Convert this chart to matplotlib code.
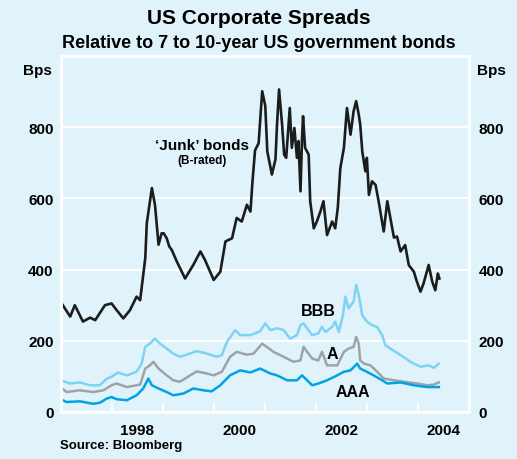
import matplotlib
matplotlib.use("Agg")
import matplotlib.pyplot as plt
from matplotlib.ticker import FixedLocator, NullFormatter

plt.rcParams['font.family'] = ['Liberation Sans', 'DejaVu Sans']
plt.rcParams['font.weight'] = 'bold'

# --------------- data (decimal years, basis points) ---------------
junk_t = [1997.00, 1997.19, 1997.28, 1997.44, 1997.58, 1997.68, 1997.87, 1998.00,
          1998.10, 1998.23, 1998.36, 1998.49, 1998.56, 1998.62, 1998.66, 1998.69,
          1998.75, 1998.79, 1998.85, 1998.92, 1998.98, 1999.02, 1999.08, 1999.13,
          1999.18, 1999.28, 1999.44, 1999.60, 1999.74, 1999.83, 2000.00, 2000.13,
          2000.23, 2000.36, 2000.45, 2000.55, 2000.65, 2000.72, 2000.76, 2000.81,
          2000.88, 2000.95, 2001.01, 2001.05, 2001.14, 2001.21, 2001.24, 2001.28,
          2001.34, 2001.38, 2001.42, 2001.49, 2001.53, 2001.58, 2001.63, 2001.66,
          2001.70, 2001.73, 2001.75, 2001.79, 2001.86, 2001.89, 2001.96, 2002.02,
          2002.09, 2002.15, 2002.22, 2002.32, 2002.38, 2002.43, 2002.48, 2002.55,
          2002.61, 2002.68, 2002.74, 2002.79, 2002.84, 2002.87, 2002.91, 2002.97,
          2003.00, 2003.04, 2003.10, 2003.17, 2003.23, 2003.33, 2003.40, 2003.46,
          2003.53, 2003.59, 2003.66, 2003.75, 2003.82, 2003.92, 2003.98, 2004.05,
          2004.11, 2004.21, 2004.28, 2004.34, 2004.39, 2004.42]
junk_v = [310, 268, 300, 254, 265, 258, 300, 305,
          286, 263, 286, 324, 314, 385, 432, 530,
          590, 629, 582, 470, 502, 502, 488, 465,
          455, 422, 375, 413, 451, 427, 371, 394,
          479, 488, 545, 535, 582, 563, 648, 735,
          755, 901, 860, 732, 667, 710, 807, 906,
          807, 723, 714, 854, 742, 798, 714, 761,
          620, 770, 831, 742, 723, 592, 516, 535,
          563, 592, 497, 535, 516, 573, 685, 742,
          854, 779, 845, 873, 836, 807, 732, 676,
          714, 610, 648, 638, 592, 507, 592, 545,
          490, 493, 451, 469, 413, 394, 366, 338,
          361, 413, 366, 342, 389, 375]

bbb_t = [1997.00, 1997.19, 1997.38, 1997.58, 1997.77, 1997.91, 1998.00, 1998.13,
         1998.30, 1998.49, 1998.59, 1998.66, 1998.75, 1998.85, 1998.95, 1999.08,
         1999.21, 1999.34, 1999.47, 1999.67, 1999.87, 2000.06, 2000.16, 2000.26,
         2000.42, 2000.52, 2000.72, 2000.91, 2001.01, 2001.11, 2001.24, 2001.37,
         2001.50, 2001.63, 2001.70, 2001.76, 2001.83, 2001.93, 2002.05, 2002.12,
         2002.19, 2002.32, 2002.38, 2002.45, 2002.53, 2002.58, 2002.64, 2002.74,
         2002.79, 2002.84, 2002.91, 2003.00, 2003.10, 2003.20, 2003.30, 2003.36,
         2003.46, 2003.66, 2003.85, 2004.05, 2004.21, 2004.31, 2004.41]
bbb_v = [89, 80, 83, 75, 75, 94, 99, 111,
         103, 113, 136, 183, 192, 206, 192, 178,
         164, 155, 161, 171, 164, 155, 160, 197,
         230, 216, 216, 227, 249, 230, 235, 230,
         206, 216, 244, 249, 235, 216, 221, 239,
         225, 239, 254, 225, 272, 324, 291, 310,
         357, 329, 272, 254, 244, 239, 216, 188,
         178, 160, 141, 127, 131, 124, 136]

a_t = [1997.00, 1997.12, 1997.38, 1997.64, 1997.84, 1998.00, 1998.10, 1998.30,
       1998.56, 1998.66, 1998.75, 1998.82, 1998.92, 1999.08, 1999.21, 1999.34,
       1999.54, 1999.67, 1999.87, 2000.00, 2000.16, 2000.32, 2000.45, 2000.65,
       2000.78, 2000.95, 2001.04, 2001.17, 2001.37, 2001.56, 2001.70, 2001.76,
       2001.83, 2001.93, 2002.05, 2002.12, 2002.22, 2002.42, 2002.55, 2002.64,
       2002.74, 2002.79, 2002.84, 2002.87, 2002.94, 2003.07, 2003.20, 2003.33,
       2003.53, 2003.72, 2003.98, 2004.18, 2004.31, 2004.41]
a_v = [70, 56, 61, 56, 61, 75, 80, 70,
       77, 122, 131, 141, 122, 103, 89, 85,
       103, 114, 108, 103, 113, 155, 169, 161,
       164, 192, 183, 169, 155, 141, 145, 183,
       169, 150, 145, 169, 131, 131, 169, 178,
       183, 211, 192, 145, 136, 131, 113, 94,
       89, 85, 80, 75, 77, 83]

aaa_t = [1997.00, 1997.12, 1997.38, 1997.64, 1997.77, 1997.91, 1998.00, 1998.10,
         1998.30, 1998.49, 1998.62, 1998.72, 1998.79, 1998.92, 1999.08, 1999.21,
         1999.41, 1999.60, 1999.80, 1999.96, 2000.13, 2000.32, 2000.52, 2000.72,
         2000.91, 2001.11, 2001.24, 2001.44, 2001.63, 2001.73, 2001.83, 2001.93,
         2002.05, 2002.22, 2002.42, 2002.55, 2002.68, 2002.81, 2002.87, 2003.00,
         2003.13, 2003.30, 2003.40, 2003.66, 2003.92, 2004.18, 2004.41]
aaa_v = [36, 28, 30, 23, 26, 38, 42, 36,
         33, 47, 66, 94, 75, 66, 56, 47,
         52, 66, 61, 58, 75, 103, 117, 111,
         122, 108, 103, 89, 89, 103, 89, 75,
         80, 89, 103, 113, 117, 136, 122, 113,
         103, 89, 80, 83, 75, 70, 70]

y_ticks = [0, 200, 400, 600, 800]
year_ticks = [1997, 1998, 1999, 2000, 2001, 2002, 2003, 2004, 2005]
year_labels = ['1998', '2000', '2002', '2004']
year_label_pos = [1998.5, 2000.5, 2002.5, 2004.5]

# --------------- plot ---------------
bg = '#e0f3fb'
fig = plt.figure(figsize=(5.17, 4.6), dpi=100, facecolor=bg)
ax = fig.add_axes([60.5 / 517, 1 - 413 / 460, (469 - 60.5) / 517, (413 - 57) / 460])
ax.set_facecolor(bg)

ax.plot(bbb_t, bbb_v, color='#80d2f4', lw=1.8)
ax.plot(a_t, a_v, color='#9ea3a7', lw=1.8)
ax.plot(aaa_t, aaa_v, color='#00a3e4', lw=1.8)
ax.plot(junk_t, junk_v, color='#1c1c1c', lw=1.9)

ax.set_xlim(1997, 2005)
ax.set_ylim(0, 1000)
ax.set_yticks(y_ticks)
ax.tick_params(axis='y', length=0, labelsize=11, pad=5)
ax.yaxis.grid(True, color='white', lw=1.5)
ax.set_axisbelow(True)

ax.xaxis.set_major_locator(FixedLocator(year_ticks))
ax.xaxis.set_major_formatter(NullFormatter())
ax.xaxis.set_minor_locator(FixedLocator(year_label_pos))
ax.set_xticklabels(year_labels, minor=True)
ax.tick_params(axis='x', which='major', direction='in', length=6.5, width=1.3, color='white')
ax.tick_params(axis='x', which='minor', length=0, labelsize=11, pad=8)

for s in ax.spines.values():
    s.set_color('white')
    s.set_linewidth(2)

ax2 = ax.twinx()
ax2.set_ylim(0, 1000)
ax2.set_yticks(y_ticks)
ax2.tick_params(axis='y', length=0, labelsize=11, pad=7)
for s in ax2.spines.values():
    s.set_visible(False)

ax.text(1999.77, 750, "\u2018Junk\u2019 bonds", ha='center', va='center', fontsize=11)
ax.text(1999.77, 707, "(B-rated)", ha='center', va='center', fontsize=8.5)
ax.text(2002.05, 286, "BBB", ha='center', va='center', fontsize=11.5)
ax.text(2002.33, 164, "A", ha='center', va='center', fontsize=11.5)
ax.text(2002.72, 58, "AAA", ha='center', va='center', fontsize=11.5)

fig.text(0.5, 1 - 18 / 460, "US Corporate Spreads", ha='center', va='center', fontsize=15)
fig.text(0.5, 1 - 44 / 460, "Relative to 7 to 10-year US government bonds",
         ha='center', va='center', fontsize=13)
fig.text(52 / 517, 1 - 71 / 460, "Bps", ha='right', va='center', fontsize=11)
fig.text(477 / 517, 1 - 71 / 460, "Bps", ha='left', va='center', fontsize=11)
fig.text(60 / 517, 1 - 446 / 460, "Source: Bloomberg", ha='left', va='center', fontsize=9.5)

fig.savefig("out.png", dpi=100, facecolor=bg)
